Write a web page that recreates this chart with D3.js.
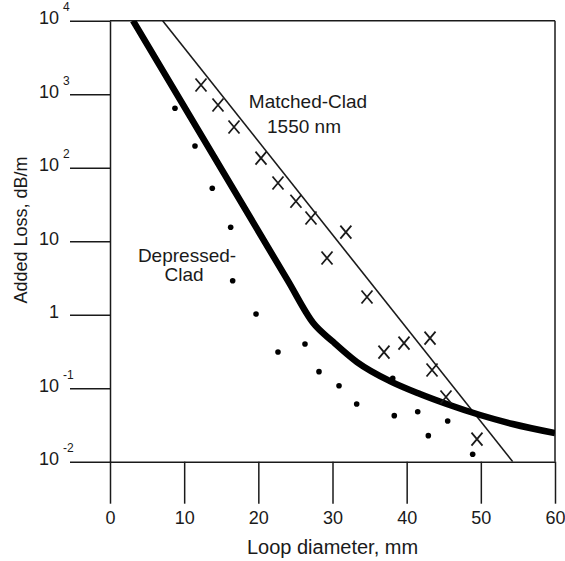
<!DOCTYPE html>
<html>
<head>
<meta charset="utf-8">
<script src="https://cdn.jsdelivr.net/npm/d3@7"></script>
<style>
  body { margin: 0; background: #fff; }
  svg { display: block; font-family: "Liberation Sans", Arial, sans-serif; }
</style>
</head>
<body>
<div id="chart"></div>
<script>
const W = 565, H = 561;
const margin = { top: 20.7, right: 10, bottom: 99.3, left: 110 };

// axis ticks
const xTicks = [0, 10, 20, 30, 40, 50, 60];
const yTicks = [1e-2, 1e-1, 1, 10, 1e2, 1e3, 1e4];
const yTickBase = ["10", "10", "1", "10", "10", "10", "10"];
const yTickExp = ["-2", "-1", "", "", "2", "3", "4"];

// matched-clad measurements (X markers)
const matchedX = [12.27, 14.56, 16.72, 20.36, 22.65, 25.07, 27.1, 31.8, 29.26, 34.65, 36.94, 39.64, 43.15, 43.42, 45.3, 49.48];
const matchedLoss = [1334, 713, 358, 135, 62, 35, 20.7, 13.3, 5.9, 1.74, 0.31, 0.41, 0.48, 0.177, 0.076, 0.0203];

// depressed-clad measurements (dots)
const depressedX = [8.76, 11.46, 13.79, 16.27, 16.54, 19.69, 22.65, 26.29, 28.18, 30.88, 33.26, 38.12, 38.33, 41.49, 42.92, 45.53, 48.9];
const depressedLoss = [643, 197, 52.5, 15.5, 2.9, 1.02, 0.311, 0.40, 0.168, 0.108, 0.061, 0.136, 0.0423, 0.0479, 0.0226, 0.0358, 0.0126];

// model curves
const matchedLineX = [7.1, 54.3];
const matchedLineLoss = [10000, 0.01];
const depCurveX = [3.1, 24, 27.4, 30.1, 33.3, 37.75, 41.8, 45.4, 49.9, 54.3, 60];
const depCurveLoss = [10000, 2.88, 0.77, 0.426, 0.227, 0.125, 0.0834, 0.061, 0.0432, 0.0326, 0.0245];

const svg = d3.select("#chart").append("svg").attr("width", W).attr("height", H);

const x = d3.scaleLinear().domain([0, 60]).range([margin.left, W - margin.right]);
const y = d3.scaleLog().domain([1e-2, 1e4]).range([H - margin.bottom, margin.top]);

const ink = "#1a1a1a";

// clip for curves
svg.append("defs").append("clipPath").attr("id", "plot")
  .append("rect")
  .attr("x", x(0)).attr("y", y(1e4))
  .attr("width", x(60) - x(0)).attr("height", y(1e-2) - y(1e4));

// frame: top and right lines
svg.append("line")
  .attr("x1", x(0)).attr("x2", x(60)).attr("y1", y(1e4)).attr("y2", y(1e4))
  .attr("stroke", ink).attr("stroke-width", 1.5);
svg.append("line")
  .attr("x1", x(60)).attr("x2", x(60)).attr("y1", y(1e4)).attr("y2", y(1e-2))
  .attr("stroke", ink).attr("stroke-width", 1.5);

// x axis
const xAxis = svg.append("g")
  .attr("transform", `translate(0,${y(1e-2)})`)
  .call(d3.axisBottom(x).tickValues(xTicks).tickSize(42).tickSizeOuter(0).tickPadding(8));
xAxis.selectAll("text").attr("font-size", 18).attr("fill", ink).attr("font-family", null);

// y axis
const yAxis = svg.append("g")
  .attr("transform", `translate(${x(0)},0)`)
  .call(d3.axisLeft(y).tickValues(yTicks).tickSize(40).tickSizeOuter(0).tickPadding(11)
    .tickFormat((d, i) => yTickBase[i]));
yAxis.selectAll(".tick text")
  .attr("font-size", 18).attr("fill", ink).attr("font-family", null)
  .attr("dy", 3);
yAxis.selectAll(".tick").each(function (d, i) {
  if (!yTickExp[i]) return;
  d3.select(this).append("text")
    .attr("x", -47).attr("y", -10)
    .attr("text-anchor", "start")
    .attr("font-size", 12)
    .attr("fill", ink)
    .text(yTickExp[i]);
});

[xAxis, yAxis].forEach(a => {
  a.selectAll("line, path").attr("stroke", ink).attr("stroke-width", 1.5);
});

// axis titles
svg.append("text")
  .attr("x", (x(0) + x(60)) / 2).attr("y", 554)
  .attr("text-anchor", "middle").attr("font-size", 20).attr("fill", ink)
  .text("Loop diameter, mm");
svg.append("text")
  .attr("transform", `translate(27,230) rotate(-90)`)
  .attr("text-anchor", "middle").attr("font-size", 18).attr("fill", ink)
  .text("Added Loss, dB/m");

const plot = svg.append("g").attr("clip-path", "url(#plot)");

const line = d3.line().x(d => x(d[0])).y(d => y(d[1]));

// matched-clad model (thin)
plot.append("path")
  .datum(matchedLineX.map((v, i) => [v, matchedLineLoss[i]]))
  .attr("d", line)
  .attr("fill", "none").attr("stroke", ink).attr("stroke-width", 1.6);

// depressed-clad model (thick)
plot.append("path")
  .datum(depCurveX.map((v, i) => [v, depCurveLoss[i]]))
  .attr("d", line.curve(d3.curveMonotoneX))
  .attr("fill", "none").attr("stroke", "#000").attr("stroke-width", 6.5)
  .attr("stroke-linejoin", "round");

// dots
svg.append("g").selectAll("circle")
  .data(depressedX.map((v, i) => [v, depressedLoss[i]]))
  .join("circle")
  .attr("cx", d => x(d[0])).attr("cy", d => y(d[1]))
  .attr("r", 2.8).attr("fill", "#000");

// X markers
svg.append("g").selectAll("path")
  .data(matchedX.map((v, i) => [v, matchedLoss[i]]))
  .join("path")
  .attr("d", d => {
    const cx = x(d[0]), cy = y(d[1]), hw = 5.5, hh = 6.5;
    return `M${cx - hw},${cy - hh}L${cx + hw},${cy + hh}M${cx + hw},${cy - hh}L${cx - hw},${cy + hh}`;
  })
  .attr("fill", "none").attr("stroke", ink).attr("stroke-width", 1.8);

// annotations
const ann = svg.append("g").attr("font-size", 19).attr("fill", ink).attr("text-anchor", "middle");
ann.append("text").attr("x", 308).attr("y", 108).text("Matched-Clad");
ann.append("text").attr("x", 304).attr("y", 133).text("1550 nm");
ann.append("text").attr("x", 187).attr("y", 262).text("Depressed-");
ann.append("text").attr("x", 184).attr("y", 281).text("Clad");
</script>
</body>
</html>
